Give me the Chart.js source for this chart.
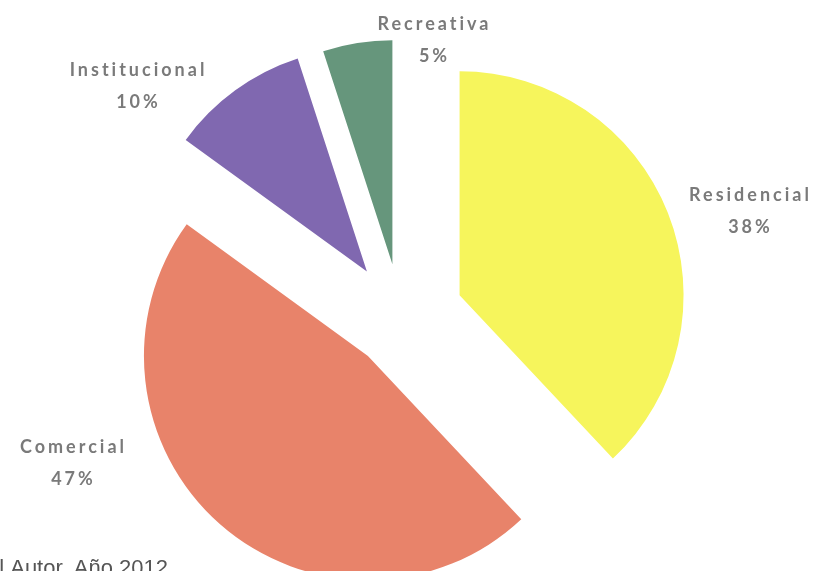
<!DOCTYPE html>
<html>
<head>
<meta charset="utf-8">
<script src="https://cdn.jsdelivr.net/npm/chart.js@4.4.0/dist/chart.umd.min.js"></script>
<style>
  html, body { margin: 0; padding: 0; background: #fff; }
  #wrap { width: 822px; height: 571px; position: relative; }
</style>
</head>
<body>
<div id="wrap"><canvas id="myChart" width="822" height="571"></canvas></div>
<script>
const categories = ['Residencial', 'Comercial', 'Institucional', 'Recreativa']
const porcentajes = [38, 47, 10, 5]
const etiquetas = ['38%', '47%', '10%', '5%']
const fuente = 'Fuente: El Autor, Año 2012'

// how far each slice is pulled out of the pie (px)
const explode = [63, 50, 58, 55]
// label centres (name line)
const labelPos = [[749, 195], [72, 447], [137, 70], [433, 24]]

// push slices out without the radius growth Chart.js adds to 'offset'
const arcDraw = Chart.ArcElement.prototype.draw
Chart.ArcElement.prototype.draw = function (ctx) {
    const i = this.$context ? this.$context.dataIndex : 0
    const d = explode[i] || 0
    const mid = (this.startAngle + this.endAngle) / 2
    ctx.save()
    ctx.translate(Math.cos(mid) * d, Math.sin(mid) * d)
    arcDraw.call(this, ctx)
    ctx.restore()
}

const labelPlugin = {
    id: 'labels',
    afterDraw(chart) {
        const c = chart.ctx
        c.save()
        c.fillStyle = '#7a7a7a'
        c.textAlign = 'center'
        c.textBaseline = 'middle'
        c.font = 'bold 18px Lato'
        c.letterSpacing = '3px'
        categories.forEach((name, i) => {
            const [x, y] = labelPos[i]
            c.fillText(name, x + 1.5, y)
            c.fillText(etiquetas[i], x + 1.5, y + 32)
        })
        c.letterSpacing = '0px'
        c.textAlign = 'right'
        c.textBaseline = 'alphabetic'
        c.font = '22px "Liberation Sans"'
        c.fillStyle = '#555'
        c.fillText(fuente, 168, 575)
        c.restore()
    }
}

const ctx = document.getElementById('myChart').getContext('2d');
new Chart(ctx, {
    type: 'pie',
    data: {
        labels: categories,
        datasets: [{
            data: porcentajes,
            backgroundColor: ['#f6f55c', '#e8836a', '#8068b0', '#66967c'],
            borderWidth: 0,
            clip: false
        }]
    },
    options: {
        responsive: false,
        animation: false,
        radius: 224,
        layout: { padding: { left: 0, right: 20, top: 66, bottom: 0 } },
        plugins: {
            legend: { display: false },
            tooltip: { enabled: false }
        }
    },
    plugins: [labelPlugin]
})
</script>
</body>
</html>
